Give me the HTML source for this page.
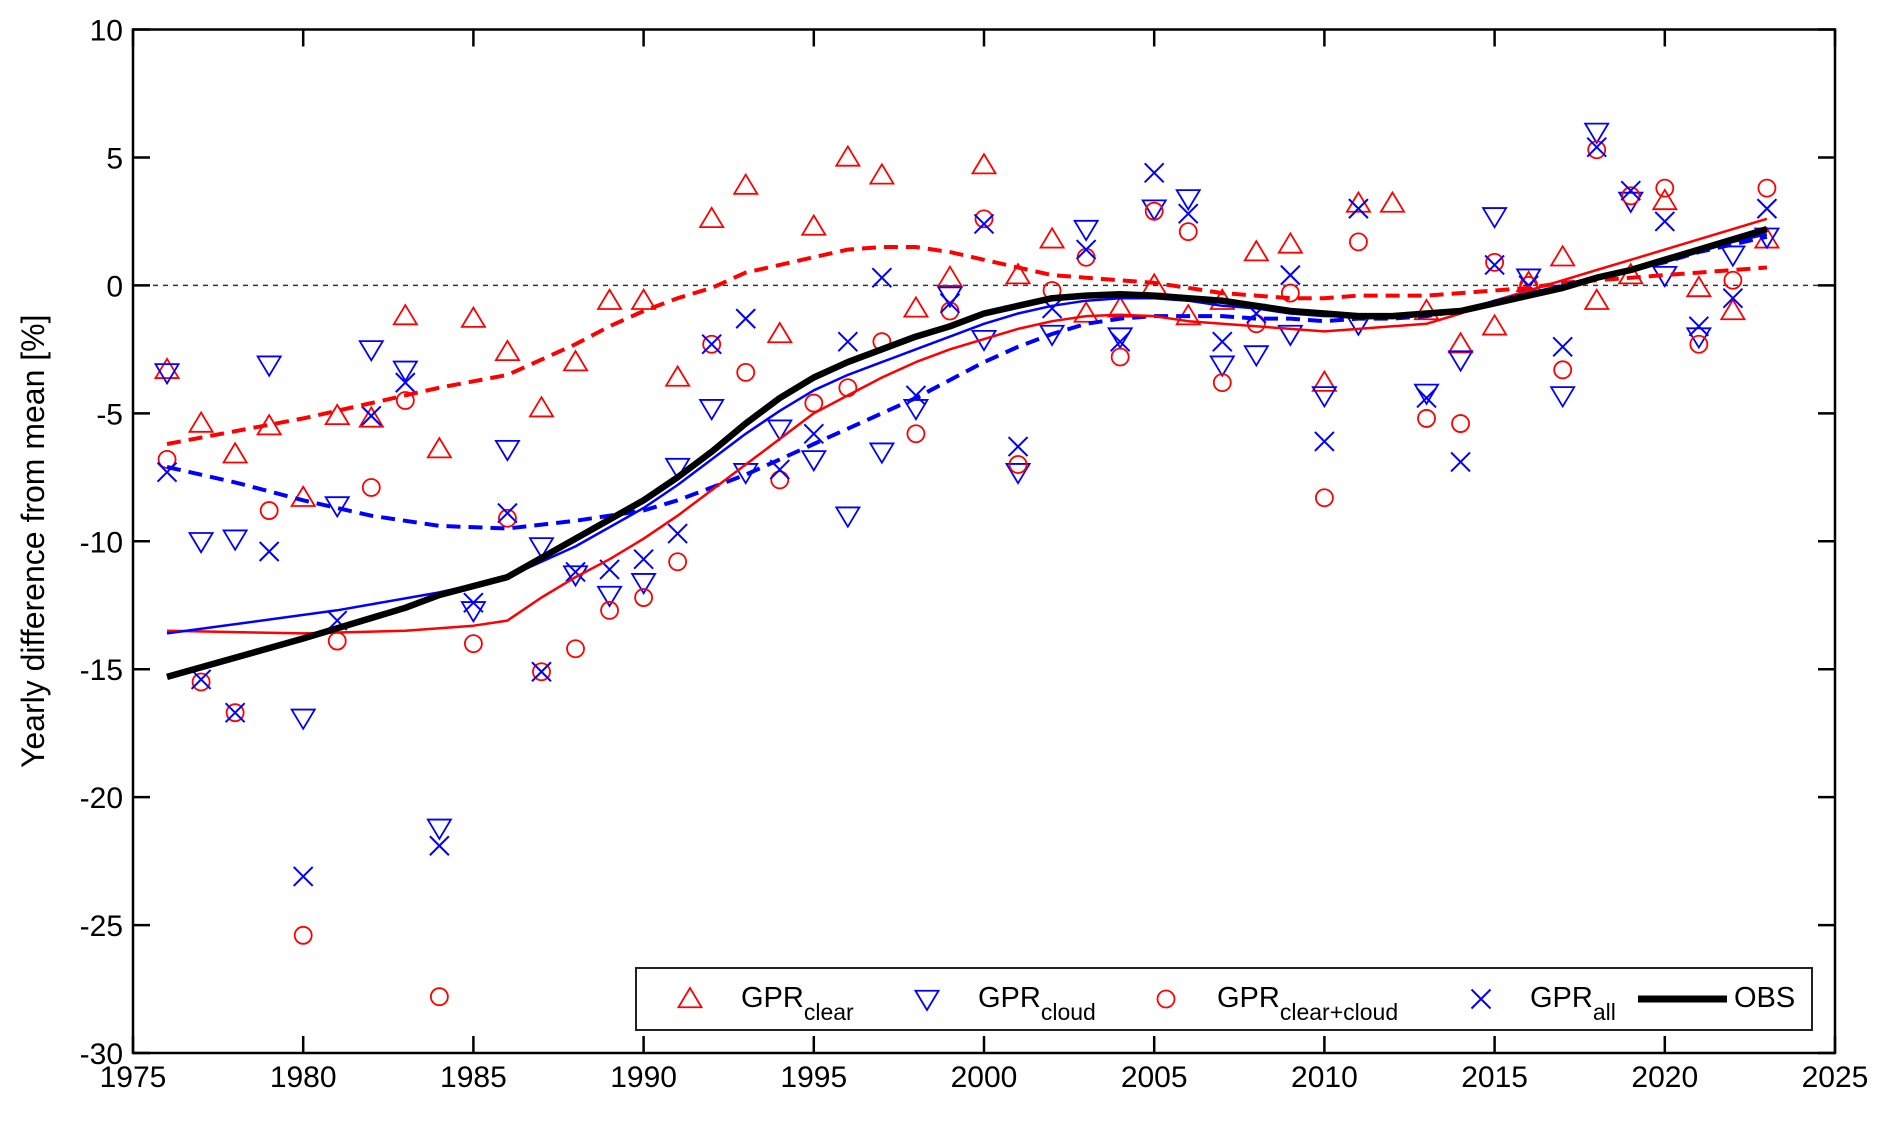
<!DOCTYPE html>
<html><head><meta charset="utf-8"><style>
html,body{margin:0;padding:0;background:#fff}
svg{display:block;font-family:"Liberation Sans",Arial,sans-serif}
</style></head><body>
<svg id="chart" width="1892" height="1123" viewBox="0 0 1892 1123" xmlns="http://www.w3.org/2000/svg"></svg>
<script>
const years = [];
for (let y = 1976; y <= 2023; y++) years.push(y);
const clearVals = [-3.3,-5.4,-6.6,-5.5,-8.3,-5.1,-5.2,-1.2,-6.4,-1.3,-2.6,-4.8,-3.0,-0.6,-0.6,-3.6,2.6,3.9,-1.9,2.3,5.0,4.3,-0.9,0.3,4.7,0.4,1.8,-1.1,-0.9,0.0,-1.2,-0.6,1.3,1.6,-3.8,3.2,3.2,-1.0,-2.3,-1.6,0.1,1.1,-0.6,0.4,3.3,-0.1,-1.0,1.8];
const cloudVals = [-3.4,-10.0,-9.9,-3.1,-16.9,-8.6,-2.5,-3.3,-21.2,-12.7,-6.4,-10.2,-11.3,-12.1,-11.6,-7.1,-4.8,-7.3,-5.6,-6.8,-9.0,-6.5,-4.8,-0.4,-2.1,-7.3,-1.9,2.2,-2.0,3.0,3.4,-3.1,-2.7,-1.9,-4.3,-1.5,null,-4.2,-2.9,2.7,0.3,-4.3,6.0,3.3,0.4,-2.0,1.2,1.9];
const ccVals = [-6.8,-15.5,-16.7,-8.8,-25.4,-13.9,-7.9,-4.5,-27.8,-14.0,-9.1,-15.1,-14.2,-12.7,-12.2,-10.8,-2.3,-3.4,-7.6,-4.6,-4.0,-2.2,-5.8,-1.0,2.6,-7.0,-0.2,1.1,-2.8,2.9,2.1,-3.8,-1.5,-0.3,-8.3,1.7,null,-5.2,-5.4,0.9,0.0,-3.3,5.3,3.5,3.8,-2.3,0.2,3.8];
const allVals = [-7.3,-15.4,-16.7,-10.4,-23.1,-13.1,-5.1,-3.8,-21.9,-12.4,-8.9,-15.1,-11.2,-11.1,-10.7,-9.7,-2.3,-1.3,-7.2,-5.8,-2.2,0.3,-4.3,-0.7,2.4,-6.3,-0.9,1.4,-2.2,4.4,2.8,-2.2,-1.1,0.4,-6.1,3.0,null,-4.4,-6.9,0.8,0.0,-2.4,5.4,3.7,2.5,-1.6,-0.5,3.0];
const obsYears = [1976,1980,1983,1984,1986,1988,1990,1991,1992,1993,1994,1995,1996,1997,1998,1999,2000,2001,2002,2003,2004,2005,2006,2007,2008,2009,2010,2011,2012,2013,2014,2015,2016,2017,2018,2019,2020,2021,2022,2023];
const obsVals = [-15.3,-13.8,-12.6,-12.1,-11.4,-9.9,-8.4,-7.5,-6.5,-5.4,-4.4,-3.6,-3.0,-2.5,-2.0,-1.6,-1.1,-0.8,-0.5,-0.4,-0.35,-0.4,-0.5,-0.6,-0.8,-1.0,-1.1,-1.2,-1.2,-1.1,-1.0,-0.7,-0.4,-0.1,0.3,0.6,1.0,1.4,1.8,2.2];
const blueYears = [1976,1981,1984,1986,1988,1990,1991,1992,1993,1994,1995,1996,1997,1998,1999,2000,2001,2002,2003,2004,2005,2006,2007,2008,2009,2010,2011,2012,2013,2014,2015,2016,2017,2018,2019,2020,2021,2022,2023];
const blueVals = [-13.6,-12.7,-12.0,-11.4,-10.2,-8.7,-7.8,-6.8,-5.8,-4.9,-4.1,-3.5,-3.0,-2.5,-2.0,-1.5,-1.1,-0.8,-0.6,-0.5,-0.5,-0.6,-0.8,-0.9,-1.1,-1.2,-1.2,-1.2,-1.2,-1.0,-0.6,-0.3,0.0,0.3,0.6,0.9,1.3,1.7,2.0];
const redYears = [1976,1980,1983,1985,1986,1987,1988,1989,1990,1991,1992,1993,1994,1995,1996,1997,1998,1999,2000,2001,2002,2003,2004,2005,2006,2007,2008,2009,2010,2011,2012,2013,2014,2015,2016,2017,2018,2019,2020,2021,2022,2023];
const redVals = [-13.5,-13.6,-13.5,-13.3,-13.1,-12.2,-11.4,-10.7,-9.9,-9.0,-8.0,-7.0,-6.0,-5.0,-4.3,-3.6,-3.0,-2.5,-2.1,-1.7,-1.4,-1.2,-1.15,-1.2,-1.4,-1.5,-1.6,-1.7,-1.8,-1.7,-1.6,-1.5,-1.1,-0.6,-0.2,0.2,0.6,1.0,1.4,1.8,2.2,2.6];
const redDashYears = [1976,1978,1980,1982,1984,1986,1987,1988,1989,1990,1991,1992,1993,1994,1995,1996,1997,1998,1999,2000,2001,2002,2003,2004,2005,2006,2007,2008,2009,2010,2011,2012,2013,2014,2015,2016,2017,2018,2019,2020,2021,2022,2023];
const redDashVals = [-6.2,-5.7,-5.2,-4.6,-4.0,-3.5,-2.9,-2.3,-1.6,-1.0,-0.5,-0.1,0.5,0.8,1.1,1.4,1.5,1.5,1.3,1.0,0.7,0.4,0.3,0.2,0.1,-0.1,-0.3,-0.4,-0.5,-0.5,-0.4,-0.4,-0.4,-0.3,-0.2,-0.1,0.1,0.2,0.3,0.4,0.5,0.6,0.7];
const blueDashYears = [1976,1978,1980,1982,1984,1986,1988,1990,1991,1992,1993,1994,1995,1996,1997,1998,1999,2000,2001,2002,2003,2004,2005,2006,2007,2008,2009,2010,2011,2012,2013,2014,2015,2016,2017,2018,2019,2020,2021,2022,2023];
const blueDashVals = [-7.1,-7.7,-8.4,-9.0,-9.4,-9.5,-9.2,-8.8,-8.4,-7.9,-7.4,-6.8,-6.2,-5.6,-5.0,-4.4,-3.7,-3.0,-2.4,-1.9,-1.5,-1.3,-1.2,-1.2,-1.2,-1.3,-1.3,-1.4,-1.3,-1.3,-1.2,-1.0,-0.7,-0.4,0.0,0.3,0.6,0.9,1.3,1.6,1.9];
const xTicks = [1975,1980,1985,1990,1995,2000,2005,2010,2015,2020,2025];
const yTicks = [10,5,0,-5,-10,-15,-20,-25,-30];

const L=133,R=1835,T=29.5,B=1053;
const xs = v => L + (v-1975)/(50)*(R-L);
const ys = v => T + (10-v)/40*(B-T);
const NS="http://www.w3.org/2000/svg";
const svg=document.getElementById('chart');
function mk(tag,attrs,parent){const e=document.createElementNS(NS,tag);for(const k in attrs)e.setAttribute(k,attrs[k]);(parent||svg).appendChild(e);return e;}

const z=mk('line',{x1:L,x2:R,y1:ys(0),y2:ys(0),stroke:'#333','stroke-width':1.5,'stroke-dasharray':'5,5'});



function tri(g,x,y,up,color){const s=11;const p=up?`${x},${y-s} ${x-s*1.05},${y+s*0.75} ${x+s*1.05},${y+s*0.75}`:`${x},${y+s} ${x-s*1.05},${y-s*0.75} ${x+s*1.05},${y-s*0.75}`;return mk('polygon',{points:p,fill:'none',stroke:color,'stroke-width':1.8},g);}
function circ(g,x,y,color){return mk('circle',{cx:x,cy:y,r:8.5,fill:'none',stroke:color,'stroke-width':1.8},g);}
function cross(g,x,y,color){const s=9.5;return mk('path',{d:`M${x-s},${y-s}L${x+s},${y+s}M${x-s},${y+s}L${x+s},${y-s}`,stroke:color,'stroke-width':2,fill:'none'},g);}

function scatter(vals,name,drawFn){const g=mk('g',{});
 vals.forEach((v,i)=>{if(v===null)return;const m=drawFn(g,xs(years[i]),ys(v));});}
function line(yy,vv,name,color,w,dash){const d=yy.map((y,i)=>(i?'L':'M')+xs(y).toFixed(1)+','+ys(vv[i]).toFixed(1)).join('');
 const p=mk('path',{d:d,fill:'none',stroke:color,'stroke-width':w,'stroke-linejoin':'round'});if(dash)p.setAttribute('stroke-dasharray',dash);
 }

scatter(clearVals,'gpr-clear-series',(g,x,y)=>tri(g,x,y,true,'#f00'));
scatter(cloudVals,'gpr-cloud-series',(g,x,y)=>tri(g,x,y,false,'#00f'));
scatter(ccVals,'gpr-clear-cloud-series',(g,x,y)=>circ(g,x,y,'#f00'));
scatter(allVals,'gpr-all-series',(g,x,y)=>cross(g,x,y,'#00f'));
line(redDashYears,redDashVals,'clear-trend-dashed','#f00',4,'14,8');
line(blueDashYears,blueDashVals,'cloud-trend-dashed','#00f',4,'14,8');
line(redYears,redVals,'clear-cloud-trend','#f00',2.5);
line(blueYears,blueVals,'all-trend','#00f',2.5);
line(obsYears,obsVals,'obs-line','#000',6.5);

const box=mk('rect',{x:L,y:T,width:R-L,height:B-T,fill:'none',stroke:'#000','stroke-width':2.5});


xTicks.forEach(t=>{const x=xs(t);
 mk('line',{x1:x,x2:x,y1:B,y2:B-17,stroke:'#000','stroke-width':2.5});
 mk('line',{x1:x,x2:x,y1:T,y2:T+17,stroke:'#000','stroke-width':2.5});
 const tx=mk('text',{x:x,y:B+34,'text-anchor':'middle','font-size':30,fill:'#000'});tx.textContent=t;
 });
yTicks.forEach(t=>{const y=ys(t);
 mk('line',{x1:L,x2:L+17,y1:y,y2:y,stroke:'#000','stroke-width':2.5});
 mk('line',{x1:R,x2:R-17,y1:y,y2:y,stroke:'#000','stroke-width':2.5});
 const tx=mk('text',{x:L-10,y:y+11,'text-anchor':'end','font-size':30,fill:'#000'});tx.textContent=t;
 });
const yt=mk('text',{x:0,y:0,'text-anchor':'middle','font-size':32,fill:'#000',transform:`translate(44,${(T+B)/2}) rotate(-90)`});
yt.textContent='Yearly difference from mean [%]';



const lg=mk('g',{});


mk('rect',{x:636,y:968,width:1176,height:62,fill:'#fff',stroke:'#222','stroke-width':2},lg);
const cy=999;
function ltext(x,main,sub,name){const t=mk('text',{x:x,y:cy+8,'font-size':29,fill:'#000'},lg);
 const a=mk('tspan',{},t);a.textContent=main;if(sub){const b=mk('tspan',{dy:13,'font-size':23},t);b.textContent=sub;}}
tri(lg,690,cy,true,'#f00');ltext(741,'GPR','clear','legend-gpr-clear');
tri(lg,927,cy,false,'#00f');ltext(978,'GPR','cloud','legend-gpr-cloud');
circ(lg,1166,cy,'#f00');ltext(1217,'GPR','clear+cloud','legend-gpr-clear-cloud');
cross(lg,1481,cy,'#00f');ltext(1530,'GPR','all','legend-gpr-all');
mk('line',{x1:1638,x2:1727,y1:cy,y2:cy,stroke:'#000','stroke-width':7},lg);
ltext(1734,'OBS',null,'legend-obs');
</script>
</body></html>
